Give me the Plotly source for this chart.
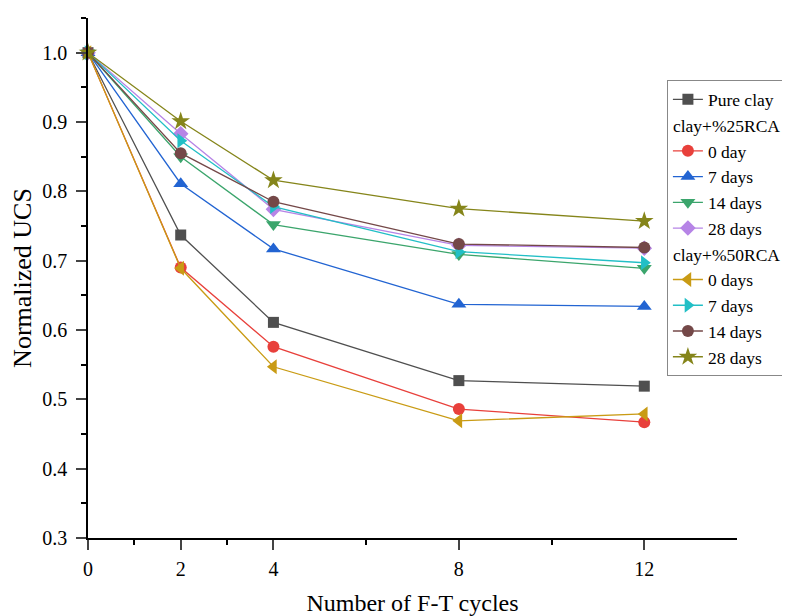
import plotly.graph_objects as go

cycles = [0, 2, 4, 8, 12]

pure_clay = [1.0, 0.737, 0.611, 0.527, 0.519]
rca25_0d = [1.0, 0.690, 0.576, 0.486, 0.467]
rca25_7d = [1.0, 0.811, 0.717, 0.637, 0.634]
rca25_14d = [1.0, 0.850, 0.752, 0.709, 0.689]
rca25_28d = [1.0, 0.883, 0.774, 0.722, 0.718]
rca50_0d = [1.0, 0.689, 0.547, 0.469, 0.479]
rca50_7d = [1.0, 0.873, 0.778, 0.713, 0.697]
rca50_14d = [1.0, 0.855, 0.785, 0.724, 0.719]
rca50_28d = [1.0, 0.901, 0.816, 0.775, 0.757]

x_tickvals = [0, 2, 4, 8, 12]
x_minor_tickvals = [1, 3, 6, 10]
y_tickvals = [0.3, 0.4, 0.5, 0.6, 0.7, 0.8, 0.9, 1.0]

series = [
    ("Pure clay", pure_clay, "#4f4f4f", "square", 11, "pure", None),
    ("0 day", rca25_0d, "#e8403b", "circle", 12, "g25", "clay+%25RCA"),
    ("7 days", rca25_7d, "#2264d2", "triangle-up", 13, "g25", "clay+%25RCA"),
    ("14 days", rca25_14d, "#3ba56c", "triangle-down", 13, "g25", "clay+%25RCA"),
    ("28 days", rca25_28d, "#b684e6", "diamond", 12, "g25", "clay+%25RCA"),
    ("0 days", rca50_0d, "#c99b14", "triangle-left", 13, "g50", "clay+%50RCA"),
    ("7 days", rca50_7d, "#22bfc6", "triangle-right", 13, "g50", "clay+%50RCA"),
    ("14 days", rca50_14d, "#744848", "circle", 12, "g50", "clay+%50RCA"),
    ("28 days", rca50_28d, "#85851a", "star", 14, "g50", "clay+%50RCA"),
]

fig = go.Figure()
for name, vals, color, sym, size, grp, gtitle in series:
    kw = {}
    if gtitle:
        kw["legendgrouptitle"] = dict(text=gtitle, font=dict(size=17.5, color="black"))
    fig.add_trace(go.Scatter(
        x=cycles, y=vals, name=name, mode="lines+markers",
        line=dict(color=color, width=1.3),
        marker=dict(color=color, symbol=sym, size=size, line=dict(width=0)),
        legendgroup=grp, cliponaxis=False, **kw))

# page body has an 8px margin, so the figure is 8px smaller and margins shifted
fig.update_layout(
    width=782, height=608,
    margin=dict(l=80, r=53, t=10, b=78, autoexpand=False),
    plot_bgcolor="white", paper_bgcolor="white",
    font=dict(family="Liberation Serif", size=20, color="black"),
    legend=dict(x=0.892, y=0.88, xanchor="left", yanchor="top",
                bordercolor="#888888", borderwidth=1, bgcolor="white",
                font=dict(size=17.5), tracegroupgap=0, traceorder="grouped",
                itemwidth=30),
    showlegend=True,
)
fig.update_xaxes(
    range=[0, 14], tickmode="array", tickvals=x_tickvals, automargin=False,
    ticks="outside", ticklen=10, tickwidth=1.5, showline=True, linecolor="black",
    linewidth=1.5, showgrid=False, zeroline=False, ticklabelstandoff=2,
    minor=dict(tickmode="array", tickvals=x_minor_tickvals, ticks="outside", ticklen=5, tickcolor="black"),
    title=dict(text="Number of F-T cycles", font=dict(size=24), standoff=20),
)
fig.update_yaxes(
    range=[0.3, 1.05], tickmode="array", tickvals=y_tickvals, tickformat=".1f",
    automargin=False, ticklabelstandoff=5,
    ticks="outside", ticklen=10, tickwidth=1.5, showline=True, linecolor="black",
    linewidth=1.5, showgrid=False, zeroline=False,
    minor=dict(dtick=0.05, tick0=0.3, ticks="outside", ticklen=5, tickcolor="black"),
    title=dict(text="Normalized UCS", font=dict(size=26), standoff=10),
)

fig.write_html("out.html")
